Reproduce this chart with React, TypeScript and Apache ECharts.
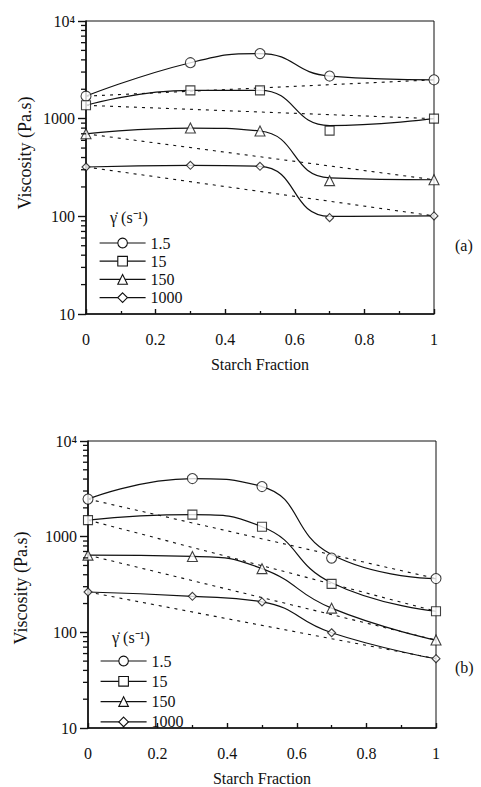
import React, { useEffect, useRef } from "react";
import * as echarts from "echarts";

// ---------- data ----------
const STARCH_FRACTION = [0, 0.3, 0.5, 0.7, 1];
const SHEAR_RATES = ["1.5", "15", "150", "1000"];
const SYMBOLS = ["circle", "rect", "triangle", "diamond"];
const SYMBOL_SIZES = [10, 9, 10, 8];

// panel (a) measured viscosities (Pa.s)
const A_1_5 = [1700, 3740, 4640, 2730, 2500];
const A_15 = [1370, 1950, 1950, 755, 1000];
const A_150 = [700, 802, 748, 232, 237];
const A_1000 = [320, 333, 325, 97, 101];
// panel (a) fitted curve values at the same fractions
const A_1_5_FIT = [1700, 3740, 4640, 2730, 2500];
const A_15_FIT = [1370, 1950, 1950, 850, 1000];
const A_150_FIT = [700, 802, 748, 248, 237];
const A_1000_FIT = [320, 333, 325, 100, 101];

// panel (b) measured viscosities (Pa.s)
const B_1_5 = [2470, 4050, 3340, 597, 365];
const B_15 = [1490, 1700, 1270, 321, 166];
const B_150 = [641, 621, 463, 179, 83];
const B_1000 = [264, 238, 208, 99, 53];
// panel (b) fitted curve values
const B_1_5_FIT = [2470, 4050, 3340, 650, 365];
const B_15_FIT = [1490, 1700, 1270, 330, 166];
const B_150_FIT = [641, 621, 463, 179, 83];
const B_1000_FIT = [264, 238, 208, 99, 53];

const X_TICK_LABELS = ["0", "0.2", "0.4", "0.6", "0.8", "1"];
const Y_MAJOR = [10, 100, 1000, 10000];
const Y_MINOR = [
  20, 30, 40, 50, 60, 70, 80, 90,
  200, 300, 400, 500, 600, 700, 800, 900,
  2000, 3000, 4000, 5000, 6000, 7000, 8000, 9000,
];

const PANELS = [
  { label: "(a)", measured: [A_1_5, A_15, A_150, A_1000], fit: [A_1_5_FIT, A_15_FIT, A_150_FIT, A_1000_FIT] },
  { label: "(b)", measured: [B_1_5, B_15, B_150, B_1000], fit: [B_1_5_FIT, B_15_FIT, B_150_FIT, B_1000_FIT] },
];

// ---------- layout ----------
const FONT = "Liberation Serif";
const INK = "#111111";
const GRIDS = [
  { left: 86, top: 21, width: 348, height: 293 },
  { left: 88, top: 441, width: 348, height: 291 },
];
const LEGEND_POS = [
  { left: 99, top: 235, gap: 2.2 },
  { left: 100, top: 653, gap: 4.3 },
];
const HEADER_POS = [
  { x: 110, y: 218 },
  { x: 112, y: 638 },
];
const YNAME_POS = [
  { x: 25, y: 153 },
  { x: 21, y: 588 },
];
const PANEL_LABEL_POS = [
  { x: 455, y: 245 },
  { x: 455, y: 667 },
];

function zip(xs: number[], ys: number[]) {
  return xs.map((x, i) => [x, ys[i]]);
}

function buildOption() {
  const grid: any[] = [];
  const xAxis: any[] = [];
  const yAxis: any[] = [];
  const series: any[] = [];
  const legend: any[] = [];
  const graphic: any[] = [];

  PANELS.forEach((panel, p) => {
    grid.push({
      ...GRIDS[p],
      show: true,
      borderColor: INK,
      borderWidth: 1,
      backgroundColor: "transparent",
    });
    xAxis.push({
      gridIndex: p,
      type: "value",
      position: "bottom",
      min: 0,
      max: 1,
      interval: 0.2,
      name: "Starch Fraction",
      nameLocation: "middle",
      nameGap: 42,
      nameTextStyle: { fontFamily: FONT, fontSize: 16, color: INK },
      axisLine: { show: true, onZero: false, lineStyle: { color: INK, width: 1.6 } },
      axisTick: { show: true, inside: true, length: 5, lineStyle: { color: INK, width: 1.4 } },
      minorTick: { show: true, splitNumber: 2, length: 3, lineStyle: { color: INK, width: 1.3 } },
      splitLine: { show: false },
      axisLabel: {
        margin: 17,
        fontFamily: FONT,
        fontSize: 16,
        color: INK,
        formatter: (v: number) => X_TICK_LABELS[Math.round(v * 5)] ?? String(v),
      },
    });
    yAxis.push({
      gridIndex: p,
      type: "log",
      logBase: 10,
      position: "left",
      min: Y_MAJOR[0],
      max: Y_MAJOR[Y_MAJOR.length - 1],
      axisLine: { show: true, onZero: false, lineStyle: { color: INK, width: 1.6 } },
      axisTick: { show: true, inside: false, length: 8, lineStyle: { color: INK, width: 1.4 } },
      minorTick: { show: false },
      splitLine: { show: false },
      axisLabel: {
        margin: 11,
        fontFamily: FONT,
        fontSize: 16,
        color: INK,
        formatter: (v: number) => (v === 10000 ? "10\u2074" : String(v)),
      },
    });

    // dashed log-additive lines between the end points
    panel.measured.forEach((vals, i) => {
      series.push({
        type: "line",
        name: `${panel.label}-mix-${SHEAR_RATES[i]}`,
        xAxisIndex: p,
        yAxisIndex: p,
        data: [
          [STARCH_FRACTION[0], vals[0]],
          [STARCH_FRACTION[STARCH_FRACTION.length - 1], vals[vals.length - 1]],
        ],
        symbol: "none",
        silent: true,
        lineStyle: { color: INK, width: 1.1, type: [3, 5] },
        z: 2,
      });
    });
    // smooth solid curves
    panel.fit.forEach((vals, i) => {
      series.push({
        type: "line",
        name: SHEAR_RATES[i],
        xAxisIndex: p,
        yAxisIndex: p,
        data: zip(STARCH_FRACTION, vals),
        smooth: 0.5,
        symbol: SYMBOLS[i],
        symbolSize: SYMBOL_SIZES[i],
        showSymbol: false,
        silent: true,
        itemStyle: { color: "#ffffff", borderColor: INK, borderWidth: 1.1 },
        lineStyle: { color: INK, width: 1.2 },
        z: 3,
      });
    });
    // markers
    panel.measured.forEach((vals, i) => {
      series.push({
        type: "scatter",
        name: `${panel.label}-pts-${SHEAR_RATES[i]}`,
        xAxisIndex: p,
        yAxisIndex: p,
        data: zip(STARCH_FRACTION, vals),
        symbol: SYMBOLS[i],
        symbolSize: SYMBOL_SIZES[i],
        silent: true,
        itemStyle: { color: "#ffffff", borderColor: INK, borderWidth: 1.1 },
        z: 4,
      });
    });

    legend.push({
      orient: "vertical",
      left: LEGEND_POS[p].left,
      top: LEGEND_POS[p].top,
      padding: 0,
      itemGap: LEGEND_POS[p].gap,
      itemWidth: 46,
      itemHeight: 12,
      selectedMode: false,
      data: SHEAR_RATES,
      textStyle: { fontFamily: FONT, fontSize: 16, color: INK, lineHeight: 15 },
      itemStyle: { color: "#ffffff", borderColor: INK, borderWidth: 1.1 },
      lineStyle: { color: INK, width: 1.2 },
    });

    graphic.push(
      {
        type: "text",
        id: `header-${p}`,
        left: HEADER_POS[p].x,
        top: HEADER_POS[p].y - 9,
        style: {
          text: "\u03B3\u0307 (s\u207B\u00B9)",
          fontFamily: FONT,
          fontSize: 16,
          fill: INK,
        },
      },
      {
        type: "text",
        id: `yname-${p}`,
        x: YNAME_POS[p].x,
        y: YNAME_POS[p].y,
        rotation: Math.PI / 2,
        style: {
          text: "Viscosity (Pa.s)",
          fontFamily: FONT,
          fontSize: 18,
          fill: INK,
          align: "center",
          verticalAlign: "middle",
          textAlign: "center",
          textVerticalAlign: "middle",
        },
      },
      {
        type: "text",
        id: `plabel-${p}`,
        left: PANEL_LABEL_POS[p].x,
        top: PANEL_LABEL_POS[p].y - 8,
        style: {
          text: panel.label,
          fontFamily: FONT,
          fontSize: 16,
          fill: INK,
        },
      }
    );
  });

  return {
    animation: false,
    backgroundColor: "#ffffff",
    grid,
    xAxis,
    yAxis,
    legend,
    series,
    graphic,
  };
}

// minor log ticks, positioned through the chart's own axis scales
function minorTickGraphics(chart: any) {
  const out: any[] = [];
  PANELS.forEach((_, p) => {
    Y_MINOR.forEach((v, k) => {
      const pt = chart.convertToPixel({ xAxisIndex: p, yAxisIndex: p }, [0, v]);
      if (!pt) return;
      out.push({
        type: "line",
        id: `minor-${p}-${k}`,
        silent: true,
        z: 10,
        shape: { x1: pt[0] - 5, y1: pt[1], x2: pt[0], y2: pt[1] },
        style: { stroke: INK, lineWidth: 1.3 },
      });
    });
  });
  return out;
}

export default function App() {
  const ref = useRef<HTMLDivElement>(null);
  useEffect(() => {
    document.body.style.margin = "0";
    if (!ref.current) return;
    const chart = echarts.init(ref.current, undefined, { renderer: "svg" });
    chart.setOption(buildOption() as any);
    chart.setOption({ graphic: minorTickGraphics(chart) } as any);
    return () => chart.dispose();
  }, []);
  return <div ref={ref} style={{ width: 481, height: 787 }} />;
}
